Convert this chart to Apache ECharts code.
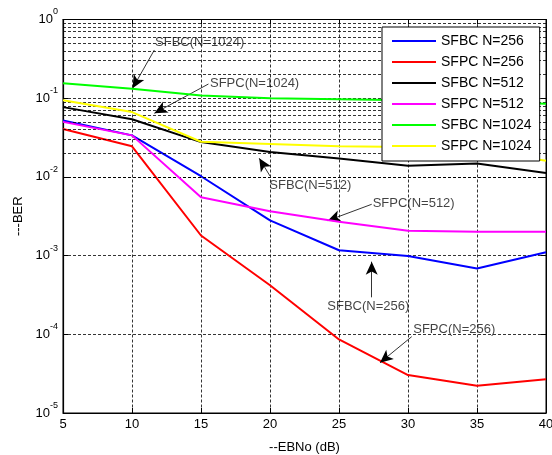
<!DOCTYPE html>
<html><head><meta charset="utf-8">
<script src="https://cdn.jsdelivr.net/npm/echarts@6/dist/echarts.min.js"></script>
<style>html,body{margin:0;padding:0;background:#fff}#c{width:552px;height:455px}</style>
</head><body><div id="c"></div>
<script>
// ---- data ----
const ebno = [5, 10, 15, 20, 25, 30, 35, 40];
const seriesNames = ['SFBC N=256', 'SFPC N=256', 'SFBC N=512', 'SFPC N=512', 'SFBC N=1024', 'SFPC N=1024'];
const sfbc256  = [0.052, 0.0337, 0.0102, 0.0028, 0.00117, 0.00099, 0.000685, 0.0011];
const sfpc256  = [0.0405, 0.0245, 0.0018, 0.00042, 0.000086, 0.0000303, 0.0000222, 0.0000268];
const sfbc512  = [0.077, 0.054, 0.0277, 0.0207, 0.0171, 0.0139, 0.0148, 0.0112];
const sfpc512  = [0.050, 0.0337, 0.0055, 0.00366, 0.0027, 0.00207, 0.00201, 0.00201];
const sfbc1024 = [0.155, 0.132, 0.108, 0.100, 0.097, 0.094, 0.091, 0.085];
const sfpc1024 = [0.094, 0.0666, 0.028, 0.0261, 0.0245, 0.024, 0.022, 0.016];
const xTicks = [5, 10, 15, 20, 25, 30, 35, 40];
const yDecades = [1e-5, 1e-4, 1e-3, 1e-2, 1e-1, 1];
// annotations (data coordinates)
const annotTexts = ['SFBC(N=1024)', 'SFPC(N=1024)', 'SFBC(N=512)', 'SFPC(N=512)', 'SFBC(N=256)', 'SFPC(N=256)'];
const annotTextAt = [[11.67, 0.518], [15.65, 0.1546], [19.95, 0.00789], [27.44, 0.00462], [24.15, 0.000224], [30.38, 0.0001157]];
const arrowTails = [[11.62, 0.41], [15.54, 0.1515], [20.0, 0.01026], [27.37, 0.00449], [27.37, 0.000295], [30.27, 0.0000933]];
const arrowTips  = [[10.04, 0.1336], [11.62, 0.0643], [19.22, 0.01723], [24.18, 0.00278], [27.37, 0.000837], [27.97, 0.0000436]];

// ---- styles ----
const colors = ['#0000ff', '#ff0000', '#000000', '#ff00ff', '#00ff00', '#ffff00'];
const FONT = 'Liberation Sans, Arial, sans-serif';
const allSeries = [sfbc256, sfpc256, sfbc512, sfpc512, sfbc1024, sfpc1024];

// minor log grid positions (2..9 x each decade)
const minorY = [];
for (let d = 0; d < yDecades.length - 1; d++) {
  for (let k = 2; k <= 9; k++) minorY.push(k * yDecades[d]);
}

const gridDash = { color: '#000', width: 0.8, type: [3, 2] };

const series = [];
series.push({
  type: 'line', name: '_grid', data: [], z: 1, silent: true,
  markLine: {
    silent: true, symbol: 'none', animation: false,
    label: { show: false },
    lineStyle: gridDash,
    data: minorY.map(v => ({ yAxis: v }))
  }
});
allSeries.forEach((vals, i) => {
  series.push({
    type: 'line', name: seriesNames[i], z: 3 + i,
    data: ebno.map((x, j) => [x, vals[j]]),
    symbol: 'none', showSymbol: false,
    lineStyle: { color: colors[i], width: 2 },
    itemStyle: { color: colors[i] },
    animation: false
  });
});
series.push({
  type: 'line', name: '_arrows', data: [], z: 20, silent: true,
  markLine: {
    silent: true, animation: false,
    symbol: ['none', 'arrow'], symbolSize: [9, 13],
    label: { show: false },
    lineStyle: { color: '#000', width: 0.8, type: 'solid' },
    itemStyle: { color: '#000' },
    data: arrowTails.map((t, i) => [{ coord: t }, { coord: arrowTips[i] }])
  }
});
series.push({
  type: 'scatter', name: '_texts', z: 21, silent: true, symbolSize: 0,
  data: annotTextAt.map((p, i) => ({ value: p, name: annotTexts[i] })),
  label: {
    show: true, position: 'right', distance: 0, formatter: p => p.name,
    color: '#111', fontSize: 13, fontFamily: FONT, align: 'left', verticalAlign: 'middle'
  },
  animation: false
});

const chart = echarts.init(document.getElementById('c'), null, { renderer: 'canvas' });
chart.setOption({
  backgroundColor: '#fff',
  animation: false,
  grid: {
    left: 63, top: 19.5, width: 483, height: 393.5,
    containLabel: false, outerBoundsMode: 'none',
    show: true, borderColor: '#000', borderWidth: 1, backgroundColor: 'transparent'
  },
  legend: {
    show: true, type: 'plain', z: 30,
    data: seriesNames, orient: 'vertical', left: 382, top: 27,
    itemWidth: 44, itemHeight: 14, itemGap: 7, itemTextGap: 5,
    padding: [7, 8, 8, 9],
    itemStyle: { opacity: 0, borderWidth: 0 },
    lineStyle: { width: 2 },
    backgroundColor: '#fff', borderColor: '#000', borderWidth: 1, borderRadius: 0,
    textStyle: { fontSize: 14, fontFamily: FONT, color: '#000' }
  },
  xAxis: [{
    type: 'value', min: 5, max: 40, interval: 5,
    name: '--EBNo (dB)', nameLocation: 'middle', nameGap: 28,
    nameTextStyle: { fontSize: 13, fontFamily: FONT, color: '#000' },
    axisLine: { show: true, onZero: false, lineStyle: { color: '#000', width: 1.2 } },
    axisTick: { show: true, inside: true, length: 5, lineStyle: { color: '#000' } },
    axisLabel: { fontSize: 13, fontFamily: FONT, color: '#000', margin: 5, formatter: v => xTicks.includes(v) ? String(v) : '' },
    splitLine: { show: true, lineStyle: gridDash }
  }, {
    type: 'value', position: 'top', min: 5, max: 40, interval: 5,
    axisLine: { show: true, onZero: false, lineStyle: { color: '#000' } },
    axisTick: { show: true, inside: true, length: 5, lineStyle: { color: '#000' } },
    axisLabel: { show: false }, splitLine: { show: false }
  }],
  yAxis: [{
    type: 'log', logBase: 10, min: 1e-5, max: 1,
    name: '---BER', nameLocation: 'middle', nameGap: 38, nameRotate: 90,
    nameTextStyle: { fontSize: 13, fontFamily: FONT, color: '#000' },
    axisLine: { show: true, onZero: false, lineStyle: { color: '#000', width: 1.2 } },
    axisTick: { show: true, inside: true, length: 5, lineStyle: { color: '#000' } },
    axisLabel: {
      margin: 5, color: '#000', fontFamily: FONT,
      formatter: v => { const e = Math.round(Math.log10(v)); return '{b|10}{e|' + e + '}'; },
      rich: {
        b: { fontSize: 13, lineHeight: 24, fontFamily: FONT, color: '#000' },
        e: { fontSize: 9, lineHeight: 10, verticalAlign: 'top', fontFamily: FONT, color: '#000' }
      }
    },
    splitLine: { show: true, lineStyle: gridDash }
  }, {
    type: 'log', logBase: 10, min: 1e-5, max: 1, position: 'right',
    axisLine: { show: true, onZero: false, lineStyle: { color: '#000' } },
    axisTick: { show: true, inside: true, length: 5, lineStyle: { color: '#000' } },
    axisLabel: { show: false }, splitLine: { show: false }
  }],
  series: series
});
</script>
</body></html>
